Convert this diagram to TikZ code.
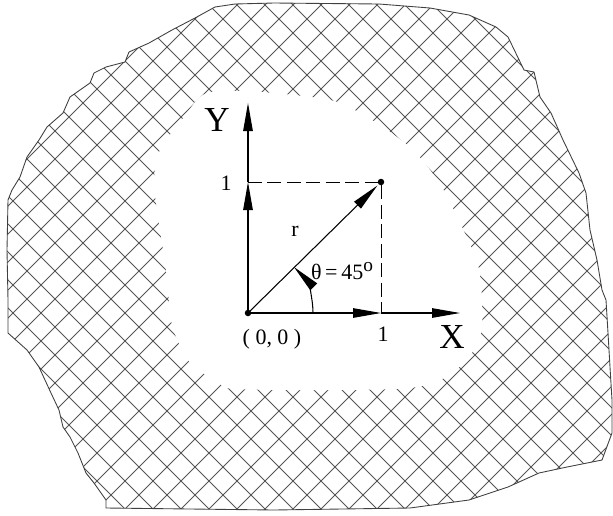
\documentclass[tikz,border=0pt]{standalone}
\usepackage{fontspec}
\setmainfont{Liberation Serif}
\usetikzlibrary{arrows.meta,positioning,calc}
\definecolor{HatchC}{RGB}{85,85,85}
\tikzset{
  axis/.style={-{Triangle[length=5.6mm,width=1.9mm]},line width=0.6pt,black},
  guide/.style={dash pattern=on 2.8mm off 1.1mm,line width=0.5pt},
  dot/.style={circle,fill=black,inner sep=0pt,minimum size=1.3mm},
  lbl/.style={font=\fontsize{12.5}{13}\selectfont,inner sep=1pt},
  big/.style={font=\fontsize{20}{21}\selectfont,inner sep=0pt},
  hatch/.style={HatchC,line width=0.45pt},
  rim/.style={draw=black!75,line width=0.5pt},
}

\begin{document}
\begin{tikzpicture}[x=0.02cm,y=-0.02cm]
  \useasboundingbox (0,0) rectangle (613,515);
  % hatched ring
  \def\rimpath{(215,7) -- (235,4) -- (274,3) -- (379,4) -- (430,8) -- (469,15) -- (496,27)
    -- (508,37) -- (524,70) -- (534,72) -- (540,97) -- (551,113) -- (563,140) -- (579,173)
    -- (586,193) -- (590,230) -- (597,260) -- (602,290) -- (606,300) -- (608,333) -- (610,367)
    -- (612,400) -- (612,433) -- (602,460) -- (567,467) -- (539,473) -- (508,487) -- (469,500)
    -- (410,508) -- (274,510) -- (106,508) -- (106,500) -- (94,483) -- (86,473) -- (78,453)
    -- (70,437) -- (63,427) -- (59,410) -- (51,393) -- (39,367) -- (27,350) -- (8,333)
    -- (8,300) -- (7,250) -- (8,200) -- (12,190) -- (20,177) -- (27,157) -- (39,140)
    -- (47,127) -- (63,113) -- (70,97) -- (90,83) -- (94,73) -- (106,67) -- (125,62)
    -- (129,52) -- (149,43) -- (172,30) -- (195,18) -- cycle}
  \begin{scope}
    \clip \rimpath;
    \foreach \k in {0,...,40}
      \draw[hatch] ({18+28*\k},0) -- ({18+28*\k-515},515);
    \foreach \k in {-19,...,22}
      \draw[hatch] ({8+28*\k},0) -- ({8+28*\k+515},515);
    \fill[white] plot[smooth cycle] coordinates {(207,93) (260,92) (330,100) (360,113)
      (390,132) (415,152) (440,184) (462,227) (478,265) (482,300) (481,333) (469,357)
      (446,377) (410,388) (330,390) (235,389) (219,383) (203,373) (188,360) (172,325)
      (166,270) (157,210) (154,180) (160,150) (184,117)};
  \end{scope}
  \draw[rim] \rimpath;

  % axes and vector
  \node[dot] (O) at (248,313) {};
  \node[dot] (P) at (381,182) {};
  \coordinate (Y1) at (248,182);
  \coordinate (X1) at (381,313);
  \coordinate (Ytip) at (248,103);
  \coordinate (Xtip) at (460,313);
  \draw[guide] (Y1) -- (P.center) -- (X1);
  \draw[axis] (O.center) -- (Y1);
  \draw[axis] (Y1) -- (Ytip);
  \draw[axis] (O.center) -- (X1);
  \draw[axis] (X1) -- (Xtip);
  \draw[axis,shorten >=1mm] (O.center) -- (P.center);
  \draw[axis] (313,313) arc[start angle=0,end angle=-45,radius=65];

  \node[big] (ylab) at (217,120) {Y};
  \node[big] (xlab) at (452,337) {X};
  \node[lbl] (y1lab) at (226,183) {1};
  \node[lbl] (x1lab) at (383,334) {1};
  \node[lbl] (olab) at (272,339) {( 0, 0 )};
  \node[lbl] (rlab) at (295,231) {r};
  \node[lbl] (tlab) at (342,271) {θ\,=\,45\raisebox{0.8ex}{\fontsize{11}{11}\selectfont o}};
\end{tikzpicture}
\end{document}
